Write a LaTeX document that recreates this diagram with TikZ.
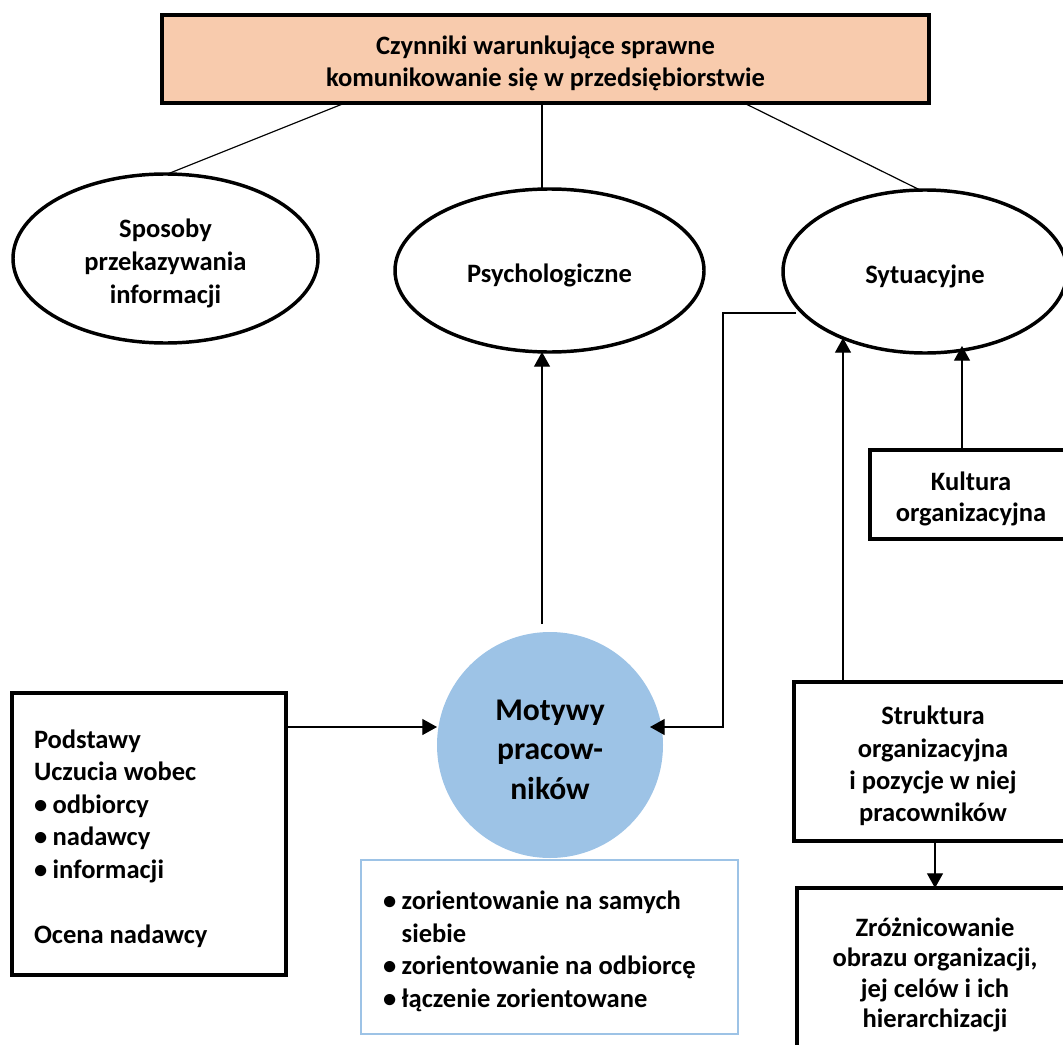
\documentclass[tikz,border=0pt]{standalone}
\usepackage{fontspec}
\setmainfont{Carlito}
\usetikzlibrary{shapes.geometric,arrows.meta,calc}
\definecolor{peach}{HTML}{F8CBAD}
\definecolor{lblue}{HTML}{9DC3E6}
\newcommand{\mybul}{\makebox[14pt][l]{•}}
\newcommand{\mystrut}{\rule{0pt}{20.8pt}}
\begin{document}
\begin{tikzpicture}[x=0.75pt,y=-0.75pt,
  every node/.style={font=\bfseries\fontsize{19.9pt}{24.75pt}\selectfont, inner sep=0pt, outer sep=0pt},
  thickbox/.style={draw, line width=2.4pt, rectangle, fill=white},
  oval/.style={draw, line width=2.6pt, ellipse, align=center, fill=white},
  conn/.style={line width=0.9pt},
  arr/.style={line width=0.9pt, -{Triangle[length=11pt,width=12pt]}},
]
\useasboundingbox (0,0) rectangle (1063,1045);
\clip (0,0) rectangle (1063,1045);

% top box
\node[thickbox, fill=peach, minimum width=575.25pt, minimum height=66pt, align=center,
      font=\bfseries\fontsize{19.9pt}{24pt}\selectfont] (top) at (545.5,59)
  {\mystrut Czynniki warunkujące sprawne\\komunikowanie się w przedsiębiorstwie};

% ellipses
\node[oval, minimum width=228.75pt, minimum height=126.75pt] (sp) at (165.5,258.5)
  {\mystrut Sposoby\\przekazywania\\informacji};
\node[oval, minimum width=231.75pt, minimum height=122.25pt] (psy) at (549.5,270.5)
  {\mystrut Psychologiczne};
\node[oval, minimum width=213pt, minimum height=122.25pt] (sit) at (925,271.5)
  {\mystrut Sytuacyjne};

% central circle
\node[circle, fill=lblue, minimum size=169.5pt, align=center,
      font=\bfseries\fontsize{23.7pt}{29.5pt}\selectfont] (mot) at (550,745)
  {\rule{0pt}{22.5pt}Motywy\\pracow-\\ników};

% left box
\node[thickbox, inner xsep=16.5pt, text width=172.5pt, minimum height=211.5pt, align=flush left,
      font=\bfseries\fontsize{19.9pt}{24.4pt}\selectfont] (lbox) at (149,834)
  {\mystrut Podstawy\\Uczucia wobec\\\mybul odbiorcy\\\mybul nadawcy\\\mybul informacji\\[24.4pt]Ocena nadawcy};

% blue box
\node[draw=lblue, fill=white, line width=1.6pt, inner xsep=16.5pt, text width=249.75pt,
      minimum height=130.5pt, align=flush left,
      font=\bfseries\fontsize{19.9pt}{24.4pt}\selectfont] (blue) at (549.5,947)
  {\mystrut\mybul zorientowanie na samych\\\hspace*{14pt}siebie\\\mybul zorientowanie na odbiorcę\\\mybul łączenie zorientowane};

% right boxes
\node[thickbox, minimum width=151.5pt, minimum height=66.75pt, align=center,
      font=\bfseries\fontsize{19.9pt}{23.5pt}\selectfont] (kult) at (971,494.5)
  {\mystrut Kultura\\organizacyjna};
\node[thickbox, minimum width=208.5pt, minimum height=119.25pt, align=center,
      font=\bfseries\fontsize{19.9pt}{24.2pt}\selectfont] (stru) at (933,761.5)
  {\mystrut Struktura\\organizacyjna\\i pozycje w niej\\pracowników};
\node[thickbox, minimum width=207pt, minimum height=130.5pt, align=center,
      font=\bfseries\fontsize{19.9pt}{22.9pt}\selectfont] (zr) at (935,975)
  {Zróżnicowanie\\obrazu organizacji,\\jej celów i ich\\hierarchizacji};

% connectors from top box
\coordinate (t1) at (345,103);
\coordinate (t2) at (542,103);
\coordinate (t3) at (744,103);
\draw[conn] (t1) -- ([shift={(2,0)}]sp.north);
\draw[conn] (t2) -- (t2 |- psy.north);
\draw[conn] (t3) -- ([shift={(-5,0)}]sit.north);

% arrows
\draw[arr] ([shift={(-8,-8)}]mot.north) -- ([shift={(-7.5,0)}]psy.south);
\coordinate (ay) at (0,727);
\draw[arr] (lbox.east |- ay) -- (mot.west |- ay);
\coordinate (e1) at (796,313);
\coordinate (e2) at (650,727);
\draw[arr] (e1) -- ++(-73,0) |- (e2);
\coordinate (sA) at (843,338);
\coordinate (sB) at (962,346);
\draw[arr] (stru.north -| sA) -- (sA);
\draw[arr] (kult.north -| sB) -- (sB);
\draw[arr] (zr.north |- stru.south) -- (zr.north);
\end{tikzpicture}
\end{document}
